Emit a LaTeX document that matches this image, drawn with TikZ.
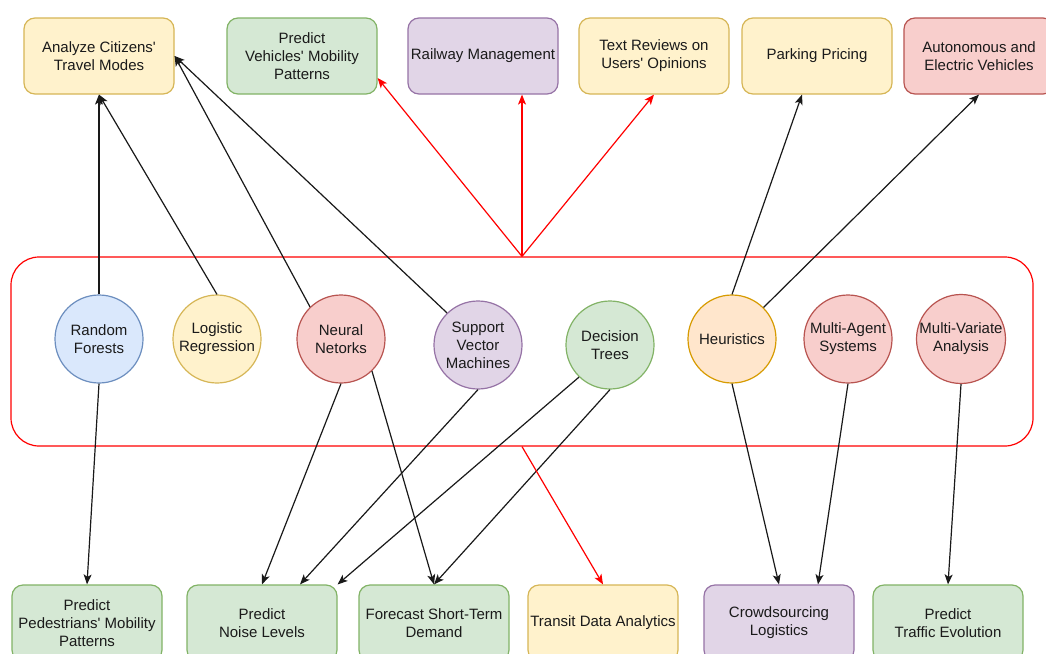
\documentclass[tikz,border=0pt]{standalone}
\usepackage{fontspec}
\setmainfont{Liberation Sans}[Ligatures=TeXOff]
\usetikzlibrary{arrows.meta}
\definecolor{yfill}{HTML}{FFF2CC}\definecolor{ydraw}{HTML}{D6B656}
\definecolor{gfill}{HTML}{D5E8D4}\definecolor{gdraw}{HTML}{82B366}
\definecolor{pfill}{HTML}{E1D5E7}\definecolor{pdraw}{HTML}{9673A6}
\definecolor{rfill}{HTML}{F8CECC}\definecolor{rdraw}{HTML}{B85450}
\definecolor{bfill}{HTML}{DAE8FC}\definecolor{bdraw}{HTML}{6C8EBF}
\definecolor{ofill}{HTML}{FFE6CC}\definecolor{odraw}{HTML}{D79B00}
\definecolor{txtc}{HTML}{1A1A1A}
\definecolor{redline}{HTML}{FF0000}
\begin{document}
\begin{tikzpicture}[x=1pt,y=-1pt,
  every node/.style={font=\fontsize{15}{18}\selectfont, text=txtc, align=center, inner sep=0pt, line width=1.2pt},
  box/.style={rectangle, rounded corners=11pt, minimum width=150pt, minimum height=76pt},
  circ/.style={circle, minimum size=88pt},
  yel/.style={fill=yfill, draw=ydraw},
  grn/.style={fill=gfill, draw=gdraw},
  pur/.style={fill=pfill, draw=pdraw},
  rd/.style={fill=rfill, draw=rdraw},
  blu/.style={fill=bfill, draw=bdraw},
  org/.style={fill=ofill, draw=odraw},
  conn/.style={line width=1.2pt, draw=black!90, -{Stealth[length=10pt,width=8pt,inset=2.5pt]}},
  redconn/.style={conn, draw=redline}
]
\useasboundingbox (0,0) rectangle (1046,653);
\clip (0,0) rectangle (1046,653);
\fill[white] (0,0) rectangle (1046,653);

% group frame
\node[rectangle, rounded corners=28pt, draw=redline, minimum width=1022pt, minimum height=189pt, line width=1.2pt] (ml) at (522,351.5) {};

% top boxes
\node[box,yel] (acm) at (99,56) {Analyze Citizens'\\Travel Modes};
\node[box,grn] (veh) at (302,56) {Predict\\Vehicles' Mobility\\Patterns};
\node[box,pur] (rail) at (483,56) {Railway Management};
\node[box,yel] (txt) at (654,56) {Text Reviews on\\Users' Opinions};
\node[box,yel] (park) at (817,56) {Parking Pricing};
\node[box,rd] (auto) at (979,56) {Autonomous and\\Electric Vehicles};

% circles
\node[circ,blu] (rf) at (99,339) {Random\\Forests};
\node[circ,yel] (lr) at (217,339) {Logistic\\Regression};
\node[circ,rd] (nn) at (341,339) {Neural\\Netorks};
\node[circ,pur] (svm) at (478,345) {Support\\Vector\\Machines};
\node[circ,grn] (dt) at (610,345) {Decision\\Trees};
\node[circ,org] (heu) at (732,339) {Heuristics};
\node[circ,rd] (mas) at (848,339) {Multi-Agent\\Systems};
\node[circ,rd] (mva) at (961,339) {Multi-Variate\\Analysis};

% bottom boxes
\node[box,grn] (ped) at (87,623) {Predict\\Pedestrians' Mobility\\Patterns};
\node[box,grn] (noise) at (262,623) {Predict\\Noise Levels};
\node[box,grn] (fore) at (434,623) {Forecast Short-Term\\Demand};
\node[box,yel] (transit) at (603,623) {Transit Data Analytics};
\node[box,pur] (crowd) at (779,623) {Crowdsourcing\\Logistics};
\node[box,grn] (traffic) at (948,623) {Predict\\Traffic Evolution};

% connectors up
\draw[conn] (rf.north) -- (acm.south);
\draw[conn] (lr.north) -- (acm.south);
\draw[conn] (nn.134) -- (acm.east);
\draw[conn] (svm.134) -- (acm.east);
\draw[redconn] (ml.north) -- ([yshift=-22pt]veh.east);
\draw[redconn] (ml.north) -- ([xshift=39pt]rail.south);
\draw[redconn] (ml.north) -- (txt.south);
\draw[conn] (heu.north) -- ([xshift=-15pt]park.south);
\draw[conn] (heu.45) -- (auto.south);

% connectors down
\draw[conn] (rf.south) -- (ped.north);
\draw[conn] (nn.south) -- (noise.north);
\draw[conn] (nn.-46) -- (fore.north);
\draw[conn] (svm.south) -- ([xshift=38pt]noise.north);
\draw[conn] (dt.-134) -- (noise.north east);
\draw[conn] (dt.south) -- (fore.north);
\draw[redconn] (ml.south) -- (transit.north);
\draw[conn] (heu.south) -- (crowd.north);
\draw[conn] (mas.south) -- ([xshift=39pt]crowd.north);
\draw[conn] (mva.south) -- (traffic.north);
\end{tikzpicture}
\end{document}
